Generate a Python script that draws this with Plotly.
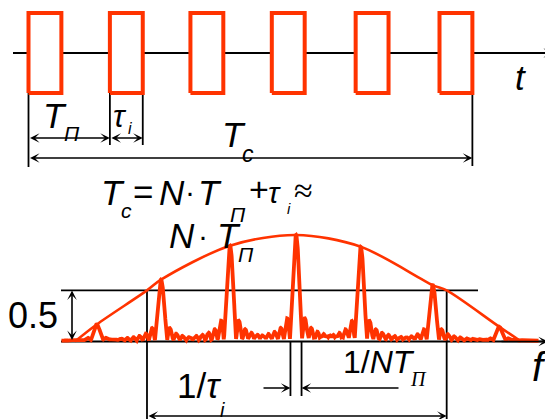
import numpy as np
import plotly.graph_objects as go

# ---------------- data ----------------
# time domain (units of T_П)
pulse_starts = [0.0, 0.99, 1.97, 2.96, 3.98, 5.00]
pulse_width = 0.40          # τ_i
pulse_amp = 1.0

# spectrum (frequency in units of 1/T_П, amplitude normalised)
peak_freqs = [-2.975, -2.015, -0.985, 0.0, 0.966, 2.04, 3.03]
peak_heights = [0.16, 0.58, 0.90, 1.0, 0.89, 0.53, 0.14]
lobe_halfwidth = 0.092      # 1/(N T_П)
env_freqs = [-3.30, -2.975, -2.224, -2.015, -0.985, 0.0, 0.966, 2.04, 2.249, 3.03, 3.36]
env_heights = [0.0, 0.16, 0.48, 0.58, 0.90, 1.0, 0.89, 0.53, 0.48, 0.14, 0.0]
half_level = 0.48
half_freqs = [-2.224, 2.249]
spec_span = [-3.50, 3.62]

# ---------------- layout constants ----------------
OFF = 8                      # browser body margin
W, H = 553 - OFF, 419 - OFF
RED = "#FF3300"
BLK = "#000000"
SANS = "Liberation Sans"
SERIF = "Liberation Serif"

T_PX0, T_UNIT, TY0, TY_UNIT = 28.5, 82.2, 53.0, 40.0
F_PX0, F_UNIT, FY0, FY_UNIT = 296.0, 67.0, 341.5, 106.5


def tx(px):
    return (px - T_PX0) / T_UNIT


def ty(py):
    return (TY0 - py) / TY_UNIT


def fx(px):
    return (px - F_PX0) / F_UNIT


def fy(py):
    return (FY0 - py) / FY_UNIT


fig = go.Figure()

# ---- pulses ----
for s in pulse_starts:
    fig.add_trace(go.Scatter(
        x=[s, s, s + pulse_width, s + pulse_width, s],
        y=[-pulse_amp, pulse_amp, pulse_amp, -pulse_amp, -pulse_amp],
        mode="lines", fill="toself", fillcolor="white",
        line=dict(color=RED, width=4), xaxis="x", yaxis="y",
        hoverinfo="skip", showlegend=False))

# ---- spectrum ----
f = np.linspace(spec_span[0], spec_span[1], 5000)
lobes = [h * np.abs(np.sinc((f - fk) / lobe_halfwidth)) for fk, h in zip(peak_freqs, peak_heights)]
spec = np.max(np.array(lobes), axis=0)
fig.add_trace(go.Scatter(x=f, y=spec, mode="lines", line=dict(color=RED, width=3.8),
                         xaxis="x2", yaxis="y2", hoverinfo="skip", showlegend=False))
fig.add_trace(go.Scatter(x=env_freqs, y=env_heights, mode="lines",
                         line=dict(color=RED, width=2.6, shape="spline", smoothing=0.9),
                         xaxis="x2", yaxis="y2", hoverinfo="skip", showlegend=False))

shapes = []


def hline(x0, x1, y, xr, yr, w=1.8):
    shapes.append(dict(type="line", x0=x0, x1=x1, y0=y, y1=y, xref=xr, yref=yr,
                       line=dict(color=BLK, width=w), layer="below"))


def vline(x, y0, y1, xr, yr, w=1.8):
    shapes.append(dict(type="line", x0=x, x1=x, y0=y0, y1=y1, xref=xr, yref=yr,
                       line=dict(color=BLK, width=w), layer="below"))


annots = []


def arrow(x0, y0, x1, y1, xr, yr, both=False):
    annots.append(dict(x=x1, y=y1, ax=x0, ay=y0, xref=xr, yref=yr, axref=xr, ayref=yr,
                       text="", showarrow=True, arrowhead=3, arrowsize=1.0, arrowwidth=1.6,
                       arrowcolor=BLK, standoff=0, startstandoff=0,
                       arrowside="end+start" if both else "end", startarrowhead=3,
                       startarrowsize=1.0))


# time axis
hline(tx(13), tx(548), 0, "x", "y")
arrow(tx(490), 0, tx(553), 0, "x", "y")
# time dimension lines
p0, p1, p5 = pulse_starts[0], pulse_starts[1], pulse_starts[-1]
vline(p0, -pulse_amp, ty(167), "x", "y")
vline(p1, -pulse_amp, ty(145), "x", "y")
vline(p1 + pulse_width, -pulse_amp, ty(145), "x", "y")
vline(p5 + pulse_width, -pulse_amp, ty(166), "x", "y")
arrow(p0, ty(138), p1, ty(138), "x", "y", both=True)
arrow(p1, ty(138), p1 + pulse_width, ty(138), "x", "y", both=True)
arrow(p0, ty(158), p5 + pulse_width, ty(158), "x", "y", both=True)

# frequency axis
hline(fx(61), fx(542), 0, "x2", "y2")
arrow(fx(500), 0, fx(548), 0, "x2", "y2")
hline(fx(61), fx(478), half_level, "x2", "y2")
arrow(fx(72), 0, fx(72), half_level, "x2", "y2", both=True)
for hf in half_freqs:
    vline(hf, half_level, fy(419), "x2", "y2")
arrow(half_freqs[0], fy(416), half_freqs[1], fy(416), "x2", "y2", both=True)
vline(-lobe_halfwidth * 0.9, 0, fy(396), "x2", "y2")
vline(lobe_halfwidth * 0.9, 0, fy(396), "x2", "y2")
arrow(fx(262), fy(388), -lobe_halfwidth * 0.9, fy(388), "x2", "y2")
arrow(fx(400), fy(388), lobe_halfwidth * 0.9, fy(388), "x2", "y2")


def label(text, px, py, size, family=SANS, xanchor="center"):
    annots.append(dict(text=text, x=(px - OFF) / W, y=1 - (py - OFF) / H,
                       xref="paper", yref="paper",
                       showarrow=False, xanchor=xanchor, yanchor="middle",
                       font=dict(family=family, size=size, color=BLK), borderpad=0))


# top labels
label("<i>T</i>", 55, 115.5, 35)
label("<i>П</i>", 72, 133.5, 21)
label("<i>τ</i>", 120, 116, 31)
label("<i>i</i>", 129.5, 129, 16)
label("<i>T</i>", 234, 134.5, 35)
label("<i>c</i>", 247.5, 154, 23)
label("<i>t</i>", 520.5, 77.5, 35)
# equation
label("<i>T</i>", 112.5, 192.5, 35)
label("<i>c</i>", 126, 211, 21)
label("=", 143, 191, 35)
label("<i>N</i>", 172, 192.5, 35)
label("·", 190, 191, 30)
label("<i>T</i>", 210, 192.5, 35)
label("<i>П</i>", 237.5, 214, 21)
label("+", 259, 189, 34)
label("<i>τ</i>", 274, 192, 30)
label("<i>i</i>", 289, 208, 15)
label("≈", 303, 190, 34, family=SERIF)
label("<i>N</i>", 182, 235.5, 35)
label("·", 203, 235, 30)
label("<i>T</i>", 228.5, 235.5, 35)
label("<i>П</i>", 246, 254, 21)
# bottom labels
label("0.5", 32.5, 315.5, 36)
label("1/<i>τ</i>", 198.5, 385.5, 35)
label("<i>i</i>", 222, 410, 20)
label("1/<i>NT</i>", 379, 361.5, 32)
label("<i>Π</i>", 418, 378.5, 20, family=SERIF)
label("<i>f</i>", 539.5, 367, 40)

ax_common = dict(visible=False, showgrid=False, zeroline=False, fixedrange=True)
fig.update_layout(
    width=W, height=H, margin=dict(l=0, r=0, t=0, b=0),
    paper_bgcolor="white", plot_bgcolor="white", showlegend=False,
    xaxis=dict(domain=[0, 1], range=[tx(OFF), tx(OFF + W)], anchor="y", **ax_common),
    yaxis=dict(domain=[0, 1], range=[ty(OFF + H), ty(OFF)], anchor="x", **ax_common),
    xaxis2=dict(domain=[0, 1], range=[fx(OFF), fx(OFF + W)], anchor="y2", overlaying="x", **ax_common),
    yaxis2=dict(domain=[0, 1], range=[fy(OFF + H), fy(OFF)], anchor="x2", overlaying="y", **ax_common),
    shapes=shapes, annotations=annots,
)

fig.write_html("out.html")
